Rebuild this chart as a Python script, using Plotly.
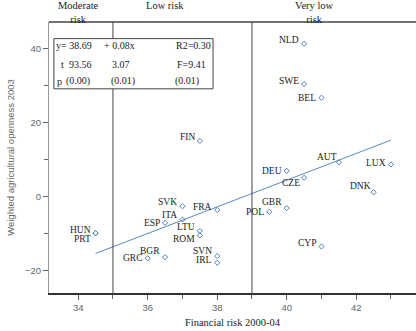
import plotly.graph_objects as go

# Länder, Finanzrisiko (x) und gewichtete Agraröffnung (y), aus dem Bild geschätzt
countries = ["NLD", "SWE", "BEL", "AUT", "LUX", "DEU", "CZE", "DNK", "GBR", "POL", "CYP", "FIN",
             "SVK", "FRA", "ITA", "ESP", "LTU", "ROM", "HUN", "PRT", "BGR", "GRC", "SVN", "IRL"]
fin_risk = [40.5, 40.5, 41.0, 41.5, 43.0, 40.0, 40.5, 42.5, 40.0, 39.5, 41.0, 37.5,
            37.0, 38.0, 37.0, 36.5, 37.5, 37.5, 34.5, 34.5, 36.5, 36.0, 38.0, 38.0]
openness = [41.4, 30.5, 26.8, 9.3, 8.7, 7.0, 5.1, 1.2, -3.1, -4.1, -13.5, 15.1,
            -2.6, -3.6, -6.2, -7.1, -9.3, -10.5, -9.9, -9.9, -16.4, -16.7, -16.1, -17.9]

fit_x = [34.5, 43.0]
fit_y = [-15.4, 15.3]

x_ticks = [34, 36, 38, 40, 42]
y_ticks = [-20, 0, 20, 40]

risk_bounds = [35, 39]
risk_labels = ["Moderate<br>risk", "Low risk", "Very low<br>risk"]
risk_label_x = [34.0, 36.5, 40.8]

stats_text = [["y= 38.69", "+ 0.08x", "R2=0.30"],
              ["t", "93.56", "3.07", "F=9.41"],
              ["p", "(0.00)", "(0.01)", "(0.01)"]]

# Layout-Kram (nicht Daten)
stats_x = [[33.33, 34.71, 36.78],
           [33.47, 33.70, 34.94, 36.80],
           [33.36, 33.62, 34.91, 36.76]]
stats_y = [40.9, 35.8, 31.2]
label_dy = {"NLD": 4, "SWE": 3, "AUT": 5, "LUX": 2, "CZE": -5, "DNK": 6, "GBR": 6, "CYP": 3,
            "FIN": 4, "SVK": 4, "FRA": 3, "ITA": 5, "LTU": 4, "ROM": -4, "HUN": 3, "PRT": -6,
            "BGR": 6, "SVN": 5, "IRL": 3}
label_dx = {"AUT": -1, "DNK": -2, "CZE": -3}

BLUE = "#4f7fbd"
SERIF = "Liberation Serif"
SANS = "Liberation Sans"

fig = go.Figure()

fig.add_trace(go.Scatter(x=fit_x, y=fit_y, mode="lines",
                         line=dict(color="#5a88c2", width=1), hoverinfo="skip"))
fig.add_trace(go.Scatter(x=fin_risk, y=openness, mode="markers", text=countries,
                         marker=dict(symbol="diamond-open", size=4, color=BLUE, line=dict(width=1))))

# Risiko-Grenzen
for b in risk_bounds:
    fig.add_shape(type="line", x0=b, x1=b, y0=0, y1=1, xref="x", yref="paper",
                  line=dict(color="#444", width=1))

# obere Rahmenlinie
fig.add_shape(type="line", x0=0, x1=1, y0=1, y1=1, xref="paper", yref="paper",
              line=dict(color="#444", width=1.5))

# Kasten mit Regressionsstatistik
fig.add_shape(type="rect", x0=33.30, x1=37.88, y0=29.2, y1=42.8, xref="x", yref="y",
              fillcolor="white", line=dict(color="#444", width=1), layer="above")

annotations = []
for row, xs, y in zip(stats_text, stats_x, stats_y):
    for txt, x in zip(row, xs):
        annotations.append(dict(x=x, y=y, xref="x", yref="y", text=txt, showarrow=False,
                                xanchor="left", borderpad=0,
                                font=dict(family=SERIF, size=10, color="#222")))

for c, x, y in zip(countries, fin_risk, openness):
    annotations.append(dict(x=x, y=y, xref="x", yref="y", text=c, showarrow=False,
                            xanchor="right", yanchor="middle", borderpad=0,
                            xshift=label_dx.get(c, -4), yshift=label_dy.get(c, 0),
                            font=dict(family=SERIF, size=9.5, color="#222")))

# Überschriften oben, alle an der Oberkante ausgerichtet
for lab, x in zip(risk_labels, risk_label_x):
    annotations.append(dict(x=x, y=1.0, xref="x", yref="paper", text=lab, showarrow=False,
                            xanchor="center", yanchor="top", yshift=24,
                            font=dict(family=SERIF, size=10.5, color="#222")))

fig.update_layout(
    width=416, height=331,
    margin=dict(l=49, r=0, t=22, b=38),
    plot_bgcolor="white", paper_bgcolor="white",
    showlegend=False,
    annotations=annotations,
    xaxis=dict(range=[33.16, 43.72], tickvals=x_ticks, ticks="outside", ticklen=5,
               tickcolor="#666", showgrid=False, zeroline=False,
               showline=True, linecolor="#333", linewidth=1.5,
               tickfont=dict(family=SANS, size=9.5, color="#666"),
               minor=dict(dtick=1, tick0=0, ticks="outside", ticklen=4, tickcolor="#666"),
               title=dict(text="Financial risk 2000-04", standoff=6,
                          font=dict(family=SERIF, size=10.5, color="#222"))),
    yaxis=dict(range=[-26.1, 47.3], tickvals=y_ticks, ticks="outside", ticklen=5,
               tickcolor="#666", showgrid=False, zeroline=False,
               showline=True, linecolor="#999", linewidth=1,
               tickfont=dict(family=SANS, size=9.5, color="#666"),
               minor=dict(dtick=10, tick0=0, ticks="outside", ticklen=4, tickcolor="#666"),
               title=dict(text="Weighted agricultural openness 2003", standoff=8,
                          font=dict(family=SANS, size=9.5, color="#666"))),
)

# Body-Rand vom Browser weg, sonst ist alles um 8px verschoben
fig.write_html("out.html", config={"displayModeBar": False},
               post_script="document.body.style.margin='0px';")
